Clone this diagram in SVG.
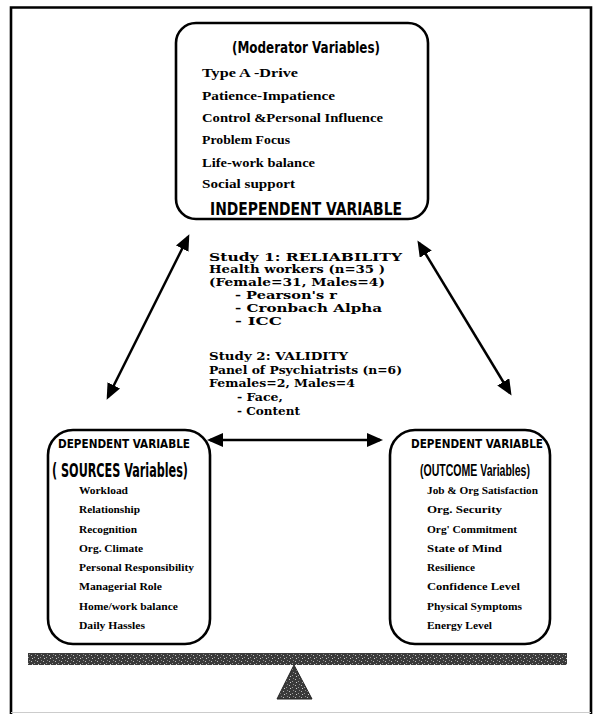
<svg xmlns="http://www.w3.org/2000/svg" width="595" height="714" viewBox="0 0 595 714">
<style>
.box{fill:#fff;stroke:#000;stroke-width:2.6}
.narrow{font-family:"Liberation Sans Narrow","DejaVu Sans Condensed","Liberation Sans",sans-serif;font-weight:bold;fill:#000}
.mod{font-family:"Liberation Serif","DejaVu Serif",serif;font-weight:bold;font-size:13px;fill:#000}
.study{font-family:"DejaVu Serif","Liberation Serif",serif;font-weight:bold;font-size:11px;fill:#000}
.item{font-family:"Liberation Serif","Times New Roman",serif;font-weight:bold;font-size:11px;fill:#000}
.conn{stroke:#000;stroke-width:2.5;fill:none;marker-start:url(#ah);marker-end:url(#ah)}
</style>
<defs>
<marker id="ah" markerUnits="userSpaceOnUse" markerWidth="17" markerHeight="14" refX="13" refY="7" orient="auto-start-reverse">
<path d="M0,0 L16,7 L0,14 z" fill="#000"/>
</marker>
<pattern id="speck" width="6" height="6" patternUnits="userSpaceOnUse">
<rect width="6" height="6" fill="#3a3a3a"/>
<rect x="1" y="1" width="1" height="1" fill="#bbb"/>
<rect x="4" y="3" width="1" height="1" fill="#999"/>
<rect x="2" y="4" width="1" height="1" fill="#ccc"/>
<rect x="5" y="0" width="1" height="1" fill="#888"/>
</pattern>
</defs>

<g id="frame">
<path d="M11,714 V7.5 H591 V714" fill="none" stroke="#000" stroke-width="2.6"/>
<line x1="11" y1="712.5" x2="591" y2="712.5" stroke="#ccc" stroke-width="1"/>
</g>

<g id="moderator">
<rect class="box" x="176" y="23" width="252" height="196" rx="20"/>
<text class="narrow" x="306" y="53" font-size="16" text-anchor="middle" textLength="148" lengthAdjust="spacingAndGlyphs">(Moderator Variables)</text>
<text class="mod" x="202" y="77" textLength="96" lengthAdjust="spacingAndGlyphs">Type A -Drive</text>
<text class="mod" x="202" y="100" textLength="133" lengthAdjust="spacingAndGlyphs">Patience-Impatience</text>
<text class="mod" x="202" y="122" textLength="181" lengthAdjust="spacingAndGlyphs">Control &amp;Personal Influence</text>
<text class="mod" x="202" y="144" textLength="88" lengthAdjust="spacingAndGlyphs">Problem Focus</text>
<text class="mod" x="202" y="167" textLength="113" lengthAdjust="spacingAndGlyphs">Life-work balance</text>
<text class="mod" x="202" y="188" textLength="93" lengthAdjust="spacingAndGlyphs">Social support</text>
<text class="narrow" x="210" y="215" font-size="17" textLength="192" lengthAdjust="spacingAndGlyphs">INDEPENDENT  VARIABLE</text>
</g>

<g id="studies">
<text class="study" x="209" y="261" textLength="193" lengthAdjust="spacingAndGlyphs">Study 1: RELIABILITY</text>
<text class="study" x="209" y="273" textLength="176" lengthAdjust="spacingAndGlyphs">Health workers (n=35 )</text>
<text class="study" x="209" y="286" textLength="176" lengthAdjust="spacingAndGlyphs">(Female=31, Males=4)</text>
<text class="study" x="235" y="299" textLength="102" lengthAdjust="spacingAndGlyphs">- Pearson's r</text>
<text class="study" x="235" y="312" textLength="147" lengthAdjust="spacingAndGlyphs">- Cronbach Alpha</text>
<text class="study" x="235" y="325" textLength="47" lengthAdjust="spacingAndGlyphs">- ICC</text>
<text class="study" x="209" y="360" textLength="139" lengthAdjust="spacingAndGlyphs">Study 2: VALIDITY</text>
<text class="study" x="209" y="374" textLength="193" lengthAdjust="spacingAndGlyphs">Panel of Psychiatrists (n=6)</text>
<text class="study" x="209" y="387" textLength="146" lengthAdjust="spacingAndGlyphs">Females=2, Males=4</text>
<text class="study" x="237" y="401" textLength="46" lengthAdjust="spacingAndGlyphs">- Face,</text>
<text class="study" x="237" y="415" textLength="63" lengthAdjust="spacingAndGlyphs">- Content</text>
</g>

<g id="sources">
<rect class="box" x="48" y="430" width="162" height="214" rx="25"/>
<text class="narrow" x="58" y="448" font-size="13" textLength="132" lengthAdjust="spacingAndGlyphs">DEPENDENT  VARIABLE</text>
<text class="narrow" x="52" y="477" font-size="19" textLength="136" lengthAdjust="spacingAndGlyphs">( SOURCES  Variables)</text>
<text class="item" x="79" y="494" textLength="49" lengthAdjust="spacingAndGlyphs">Workload</text>
<text class="item" x="79" y="513" textLength="61" lengthAdjust="spacingAndGlyphs">Relationship</text>
<text class="item" x="79" y="533" textLength="58" lengthAdjust="spacingAndGlyphs">Recognition</text>
<text class="item" x="79" y="552" textLength="64" lengthAdjust="spacingAndGlyphs">Org. Climate</text>
<text class="item" x="79" y="571" textLength="115" lengthAdjust="spacingAndGlyphs">Personal Responsibility</text>
<text class="item" x="79" y="590" textLength="83" lengthAdjust="spacingAndGlyphs">Managerial Role</text>
<text class="item" x="79" y="610" textLength="99" lengthAdjust="spacingAndGlyphs">Home/work balance</text>
<text class="item" x="79" y="629" textLength="66" lengthAdjust="spacingAndGlyphs">Daily Hassles</text>
</g>

<g id="outcomes">
<rect class="box" x="390" y="430" width="160" height="214" rx="25"/>
<text class="narrow" x="411" y="448" font-size="13" textLength="132" lengthAdjust="spacingAndGlyphs">DEPENDENT  VARIABLE</text>
<text transform="translate(475,476) scale(0.62,1)" font-family="Liberation Sans, sans-serif" font-weight="bold" font-size="17" text-anchor="middle" fill="#000">(OUTCOME  Variables)</text>
<text class="item" x="427" y="494" textLength="111" lengthAdjust="spacingAndGlyphs">Job &amp; Org Satisfaction</text>
<text class="item" x="427" y="513" textLength="75" lengthAdjust="spacingAndGlyphs">Org. Security</text>
<text class="item" x="427" y="533" textLength="90" lengthAdjust="spacingAndGlyphs">Org' Commitment</text>
<text class="item" x="427" y="552" textLength="75" lengthAdjust="spacingAndGlyphs">State of Mind</text>
<text class="item" x="427" y="571" textLength="48" lengthAdjust="spacingAndGlyphs">Resilience</text>
<text class="item" x="427" y="590" textLength="93" lengthAdjust="spacingAndGlyphs">Confidence Level</text>
<text class="item" x="427" y="610" textLength="95" lengthAdjust="spacingAndGlyphs">Physical Symptoms</text>
<text class="item" x="427" y="629" textLength="65" lengthAdjust="spacingAndGlyphs">Energy Level</text>
</g>

<g id="connectors">
<line class="conn" x1="188" y1="237" x2="108" y2="397"/>
<line class="conn" x1="419" y1="243" x2="510" y2="393"/>
<line class="conn" x1="210" y1="440" x2="380" y2="440"/>
</g>

<g id="seesaw">
<rect x="28" y="653" width="539" height="12" fill="url(#speck)"/>
<polygon points="294,665 277,699 312,699" fill="url(#speck)" stroke="#222" stroke-width="1"/>
</g>
</svg>
